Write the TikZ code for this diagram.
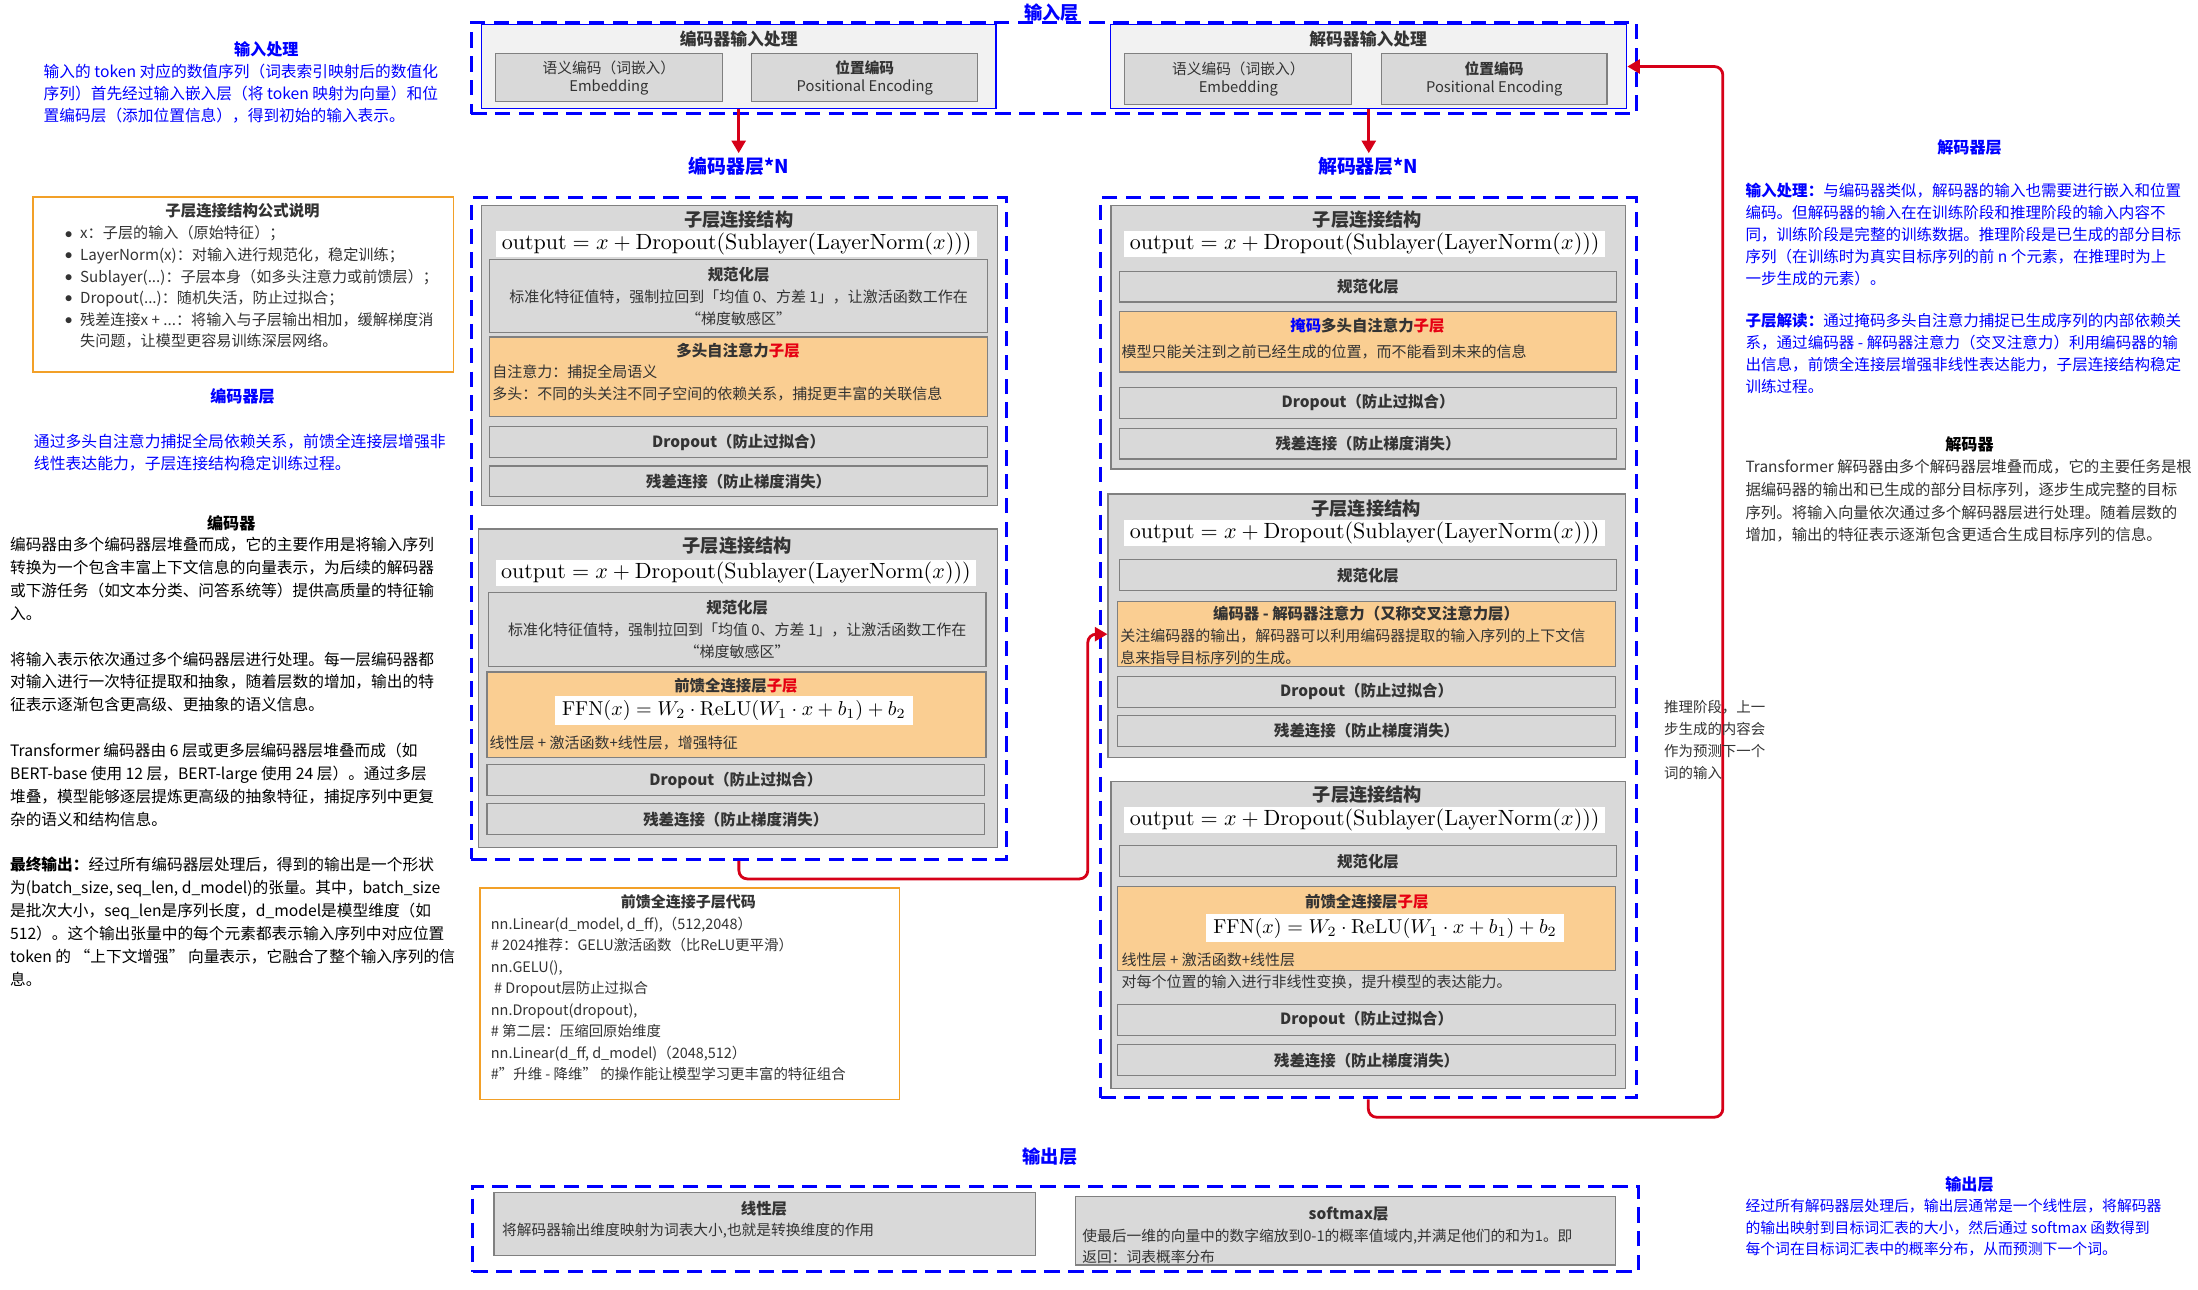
\documentclass[tikz,border=0pt]{standalone}
\usepackage[no-math]{fontspec}
\setmainfont{Noto Sans CJK SC}
\usetikzlibrary{arrows.meta}
\definecolor{dblue}{RGB}{0,0,255}
\definecolor{boxgray}{RGB}{217,217,217}
\definecolor{boxline}{RGB}{128,128,128}
\definecolor{inbg}{RGB}{242,242,242}
\definecolor{orfill}{RGB}{250,206,146}
\definecolor{orline}{RGB}{242,160,40}
\definecolor{arred}{RGB}{214,0,24}
\definecolor{dtxt}{RGB}{51,51,51}
\definecolor{subred}{RGB}{230,0,18}
\newcommand\fsz[2]{\fontsize{#1}{#2}\selectfont}
\newcommand\slf{\resizebox{335pt}{!}{$\mathrm{output}=x+\mathrm{Dropout}(\mathrm{Sublayer}(\mathrm{LayerNorm}(x)))$}}
\newcommand\ffn{\resizebox{245pt}{!}{$\mathrm{FFN}(x)=W_2\cdot\mathrm{ReLU}(W_1\cdot x+b_1)+b_2$}}
\newcommand\bul{\makebox[11pt][l]{\raisebox{0.5pt}{$\bullet$}}}
\tikzset{
  graybox/.style={draw=boxline,fill=boxgray,line width=0.8pt,inner sep=2pt,align=center,text=dtxt,anchor=north west},
  orbox/.style={draw=boxline,fill=orfill,line width=0.8pt,anchor=north west},
  outerbox/.style={draw=boxline,fill=boxgray,line width=1pt,anchor=north west},
  inbox/.style={draw=dblue,fill=inbg,line width=0.9pt,anchor=north west},
  dashbox/.style={draw=dblue,line width=2.2pt,dash pattern=on 11pt off 6pt,anchor=north west},
  redarr/.style={draw=arred,line width=2pt,rounded corners=6pt,-{Triangle[length=9pt,width=10pt]}},
  ttl/.style={font=\fsz{13}{15}\bfseries,text=dtxt,inner sep=0pt},
  stl/.style={font=\fsz{11}{13}\bfseries,text=dtxt,inner sep=0pt},
  btx/.style={font=\fsz{10.7}{15.5},text=dtxt,align=left,inner sep=0pt,anchor=north west},
  bluet/.style={font=\fsz{11.5}{13}\bfseries,text=dblue,inner sep=0pt},
  bigblue/.style={font=\fsz{13.5}{15}\bfseries,text=dblue,inner sep=0pt},
  para/.style={align=left,inner sep=0pt,anchor=north west},
  frm/.style={fill=white,inner xsep=4pt,inner ysep=1.5pt},
  thinbox/.style={graybox,font=\fsz{11}{13}\bfseries,minimum width=355pt,minimum height=22pt},
}
\begin{document}
\begin{tikzpicture}[x=1pt,y=-1pt]
\useasboundingbox (0,0) rectangle (1568,920);
\fill[white] (0,0) rectangle (1568,920);

% ---------- input layer ----------
\node[dashbox,minimum width=831pt,minimum height=65pt] (inlayer) at (335,15) {};
\node[bigblue,font=\fsz{13}{15}\bfseries] (inlayert) at (750,9) {输入层};
\node[inbox,minimum width=367pt,minimum height=60pt] (encin) at (343,17) {};
\node[stl,font=\fsz{12}{14}\bfseries] (encint) at (527,28) {编码器输入处理};
\node[graybox,font=\fsz{10.5}{13},minimum width=162pt,minimum height=34pt] (encemb) at (353,38) {语义编码（词嵌入）\\Embedding};
\node[graybox,font=\fsz{10.5}{13},minimum width=161pt,minimum height=34pt] (encpos) at (536,38) {\textbf{位置编码}\\Positional Encoding};
\node[inbox,minimum width=368pt,minimum height=60pt] (decin) at (792,17) {};
\node[stl,font=\fsz{12}{14}\bfseries] (decint) at (976,28) {解码器输入处理};
\node[graybox,font=\fsz{10.5}{13},minimum width=162pt,minimum height=36pt] (decemb) at (802,38) {语义编码（词嵌入）\\Embedding};
\node[graybox,font=\fsz{10.5}{13},minimum width=161pt,minimum height=36pt] (decpos) at (985,38) {\textbf{位置编码}\\Positional Encoding};

\node[bigblue] (encN) at (527,119) {编码器层*N};
\node[bigblue] (decN) at (976,119) {解码器层*N};
\draw[redarr,shorten >=3pt] (encin.south) -- (encin.south |- encN.north);
\draw[redarr,shorten >=3pt] (decin.south) -- (decin.south |- decN.north);

% ---------- encoder ----------
\node[dashbox,minimum width=382pt,minimum height=472pt] (encdash) at (335,140) {};
% sublayer 1
\node[outerbox,minimum width=368pt,minimum height=214pt] (es1) at (343,146) {};
\node[ttl] (es1t) at (527,157) {子层连接结构};
\node[frm] (es1f) at (525.5,174) {\slf};
\node[graybox,font=\fsz{10.7}{15.5},minimum width=355pt,minimum height=52pt] (es1n) at (349,185) {{\fsz{11}{15.5}\bfseries 规范化层}\\标准化特征值特，强制拉回到「均值 0、方差 1」，让激活函数工作在\\“梯度敏感区”};
\node[orbox,minimum width=355pt,minimum height=57pt] (es1a) at (349,240) {};
\node[stl] (es1at) at (526.5,250) {多头自注意力\textcolor{subred}{子层}};
\node[btx] (es1ax) at (351,260) {自注意力：捕捉全局语义\\多头：不同的头关注不同子空间的依赖关系，捕捉更丰富的关联信息};
\node[thinbox] (es1d) at (349,304) {Dropout（防止过拟合）};
\node[thinbox] (es1r) at (349,332) {残差连接（防止梯度消失）};
% sublayer 2
\node[outerbox,minimum width=370pt,minimum height=227pt] (es2) at (341,377) {};
\node[ttl] (es2t) at (526,389) {子层连接结构};
\node[frm] (es2f) at (525,409) {\slf};
\node[graybox,font=\fsz{10.7}{15.5},minimum width=355pt,minimum height=53pt] (es2n) at (348,422) {{\fsz{11}{15.5}\bfseries 规范化层}\\标准化特征值特，强制拉回到「均值 0、方差 1」，让激活函数工作在\\“梯度敏感区”};
\node[orbox,minimum width=356pt,minimum height=61pt] (es2a) at (347,479) {};
\node[stl] (es2at) at (525,489) {前馈全连接层\textcolor{subred}{子层}};
\node[frm,inner xsep=5pt,inner ysep=3pt] (es2f2) at (523.5,507) {\ffn};
\node[btx] (es2ax) at (349,524.5) {线性层 + 激活函数+线性层，增强特征};
\node[thinbox] (es2d) at (347,545) {Dropout（防止过拟合）};
\node[thinbox] (es2r) at (347,573) {残差连接（防止梯度消失）};

% ---------- code box ----------
\node[draw=orline,line width=1pt,fill=white,minimum width=299pt,minimum height=151pt,anchor=north west] (code) at (342,633) {};
\node[stl,font=\fsz{10.7}{13}\bfseries] (codet) at (491,643) {前馈全连接子层代码};
\node[para,font=\fsz{10.3}{15.3},text=dtxt] (codex) at (350,654) {nn.Linear(d\_model, d\_ff),（512,2048）\\
\# 2024推荐：GELU激活函数（比ReLU更平滑）\\
nn.GELU(),\\
\ \# Dropout层防止过拟合\\
nn.Dropout(dropout),\\
\# 第二层：压缩回原始维度\\
nn.Linear(d\_ff, d\_model)（2048,512）\\
\#"升维 - 降维" 的操作能让模型学习更丰富的特征组合};

% ---------- decoder ----------
\node[dashbox,minimum width=382pt,minimum height=642pt] (decdash) at (784,140) {};
% sublayer 1
\node[outerbox,minimum width=367pt,minimum height=188pt] (ds1) at (792,146) {};
\node[ttl] (ds1t) at (975.5,157) {子层连接结构};
\node[frm] (ds1f) at (973.5,174) {\slf};
\node[thinbox] (ds1n) at (798,193) {规范化层};
\node[orbox,minimum width=355pt,minimum height=43pt] (ds1a) at (798,222) {};
\node[stl] (ds1at) at (975.5,232) {\textcolor{dblue}{掩码}多头自注意力\textcolor{subred}{子层}};
\node[btx] (ds1ax) at (800,245.5) {模型只能关注到之前已经生成的位置，而不能看到未来的信息};
\node[thinbox] (ds1d) at (798,276) {Dropout（防止过拟合）};
\node[thinbox] (ds1r) at (798,305) {残差连接（防止梯度消失）};
% sublayer 2
\node[outerbox,minimum width=369pt,minimum height=188pt] (ds2) at (790,352) {};
\node[ttl] (ds2t) at (974.5,363) {子层连接结构};
\node[frm] (ds2f) at (973.5,380) {\slf};
\node[thinbox] (ds2n) at (798,399) {规范化层};
\node[orbox,minimum width=355pt,minimum height=46pt] (ds2a) at (797,429) {};
\node[stl] (ds2at) at (974.5,438) {编码器 - 解码器注意力（又称交叉注意力层）};
\node[btx] (ds2ax) at (799,448.5) {关注编码器的输出，解码器可以利用编码器提取的输入序列的上下文信\\息来指导目标序列的生成。};
\node[thinbox] (ds2d) at (797,482) {Dropout（防止过拟合）};
\node[thinbox] (ds2r) at (797,510) {残差连接（防止梯度消失）};
% sublayer 3
\node[outerbox,minimum width=367pt,minimum height=219pt] (ds3) at (792,557) {};
\node[ttl] (ds3t) at (975.5,567) {子层连接结构};
\node[frm] (ds3f) at (973.5,585) {\slf};
\node[thinbox] (ds3n) at (798,603) {规范化层};
\node[orbox,minimum width=355pt,minimum height=60pt] (ds3a) at (797,632) {};
\node[stl] (ds3at) at (975,643) {前馈全连接层\textcolor{subred}{子层}};
\node[frm,inner xsep=5pt,inner ysep=3pt] (ds3f2) at (988,662) {\ffn};
\node[btx] (ds3ax) at (800,679.5) {线性层 + 激活函数+线性层\\对每个位置的输入进行非线性变换，提升模型的表达能力。};
\node[thinbox] (ds3d) at (797,716) {Dropout（防止过拟合）};
\node[thinbox] (ds3r) at (797,745) {残差连接（防止梯度消失）};

% ---------- connectors ----------
\coordinate (c1) at (776,627);
\draw[redarr] (encdash.south) |- (c1) |- (ds2.west |- ds2a.west);
\coordinate (c2) at (1229,797);
\draw[redarr] (decdash.south) |- (c2) |- (decin.east);
\node[para,font=\fsz{10.3}{15.7},text=dtxt] (infer) at (1187,499.5) {推理阶段，上一\\步生成的内容会\\作为预测下一个\\词的输入};

% ---------- output layer ----------
\node[bigblue,font=\fsz{13}{15}\bfseries] (outt) at (749,825) {输出层};
\node[dashbox,minimum width=832pt,minimum height=61pt] (outdash) at (336,845) {};
\node[graybox,minimum width=386pt,minimum height=45pt] (lin) at (352,850) {};
\node[stl] (lint) at (545,862) {线性层};
\node[btx,font=\fsz{10.5}{15}] (linx) at (358,872.5) {将解码器输出维度映射为词表大小,也就是转换维度的作用};
\node[graybox,minimum width=385pt,minimum height=49pt] (smx) at (767,853) {};
\node[stl] (smxt) at (962,866) {softmax层};
\node[btx,font=\fsz{10.5}{15}] (smxx) at (772,876.5) {使最后一维的向量中的数字缩放到0-1的概率值域内,并满足他们的和为1。即\\返回：词表概率分布};

% ---------- right texts ----------
\node[bluet] (rdl) at (1405,105) {解码器层};
\node[para,font=\fsz{11.1}{15.7},text=dblue] (rp1) at (1245,130.5) {\textbf{输入处理：}与编码器类似，解码器的输入也需要进行嵌入和位置\\
编码。但解码器的输入在在训练阶段和推理阶段的输入内容不\\
同，训练阶段是完整的训练数据。推理阶段是已生成的部分目标\\
序列（在训练时为真实目标序列的前 n 个元素，在推理时为上\\
一步生成的元素）。};
\node[para,font=\fsz{11.1}{15.5},text=dblue] (rp2) at (1245,223.5) {\textbf{子层解读：}通过掩码多头自注意力捕捉已生成序列的内部依赖关\\
系，通过编码器 - 解码器注意力（交叉注意力）利用编码器的输\\
出信息，前馈全连接层增强非线性表达能力，子层连接结构稳定\\
训练过程。};
\node[bluet,text=black] (rdec) at (1405,317) {解码器};
\node[para,font=\fsz{11}{16.3},text=dtxt] (rp3) at (1245,327.5) {Transformer 解码器由多个解码器层堆叠而成，它的主要任务是根\\
据编码器的输出和已生成的部分目标序列，逐步生成完整的目标\\
序列。将输入向量依次通过多个解码器层进行处理。随着层数的\\
增加，输出的特征表示逐渐包含更适合生成目标序列的信息。};
\node[bluet] (rout) at (1405,845) {输出层};
\node[para,font=\fsz{10.6}{15.5},text=dblue] (rp4) at (1245,855) {经过所有解码器层处理后，输出层通常是一个线性层，将解码器\\
的输出映射到目标词汇表的大小，然后通过 softmax 函数得到\\
每个词在目标词汇表中的概率分布，从而预测下一个词。};

% ---------- left texts ----------
\node[bluet] (lin1) at (190,35) {输入处理};
\node[para,font=\fsz{11.2}{15.7},text=dblue] (lp1) at (31,45.5) {输入的 token 对应的数值序列（词表索引映射后的数值化\\
序列）首先经过输入嵌入层（将 token 映射为向量）和位\\
置编码层（添加位置信息），得到初始的输入表示。};
\node[draw=orline,line width=1pt,minimum width=300pt,minimum height=125pt,anchor=north west] (fbox) at (23,140) {};
\node[stl] (fboxt) at (173,150) {子层连接结构公式说明};
\node[para,font=\fsz{10.8}{15.4},text=dtxt] (fboxx) at (46,161) {\bul x：子层的输入（原始特征）；\\
\bul LayerNorm(x)：对输入进行规范化，稳定训练；\\
\bul Sublayer(...)：子层本身（如多头注意力或前馈层）；\\
\bul Dropout(...)：随机失活，防止过拟合；\\
\bul 残差连接x + ...：将输入与子层输出相加，缓解梯度消\\
\hspace*{11pt}失问题，让模型更容易训练深层网络。};
\node[bluet] (lenc) at (173,283) {编码器层};
\node[para,font=\fsz{11.3}{15.5},text=dblue] (lp2) at (24,309.5) {通过多头自注意力捕捉全局依赖关系，前馈全连接层增强非\\线性表达能力，子层连接结构稳定训练过程。};
\node[bluet,text=black] (lencd) at (165,373) {编码器};
\node[para,font=\fsz{11.2}{16.3},text=black] (lp3) at (7,383.3) {编码器由多个编码器层堆叠而成，它的主要作用是将输入序列\\
转换为一个包含丰富上下文信息的向量表示，为后续的解码器\\
或下游任务（如文本分类、问答系统等）提供高质量的特征输\\
入。\\[16.3pt]
将输入表示依次通过多个编码器层进行处理。每一层编码器都\\
对输入进行一次特征提取和抽象，随着层数的增加，输出的特\\
征表示逐渐包含更高级、更抽象的语义信息。\\[16.3pt]
Transformer 编码器由 6 层或更多层编码器层堆叠而成（如\\
BERT-base 使用 12 层，BERT-large 使用 24 层）。通过多层\\
堆叠，模型能够逐层提炼更高级的抽象特征，捕捉序列中更复\\
杂的语义和结构信息。\\[16.3pt]
\textbf{最终输出：}经过所有编码器层处理后，得到的输出是一个形状\\
为(batch\_size, seq\_len, d\_model)的张量。其中，batch\_size\\
是批次大小，seq\_len是序列长度，d\_model是模型维度（如\\
512）。这个输出张量中的每个元素都表示输入序列中对应位置\\
token 的 “上下文增强” 向量表示，它融合了整个输入序列的信\\
息。};
\end{tikzpicture}
\end{document}
